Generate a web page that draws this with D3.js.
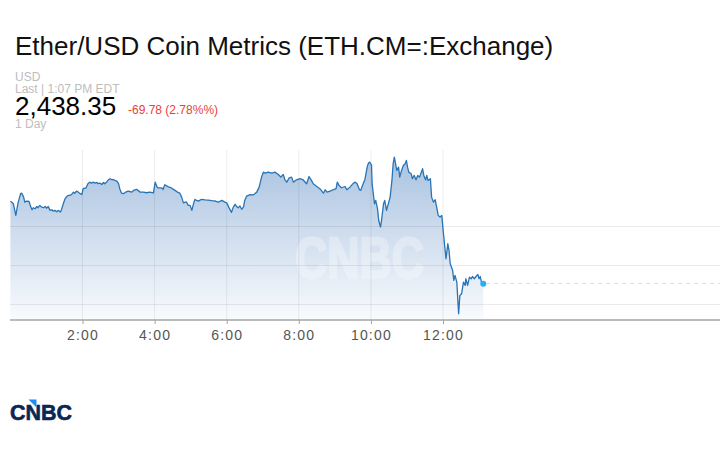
<!DOCTYPE html>
<html>
<head>
<meta charset="utf-8">
<script src="https://cdn.jsdelivr.net/npm/d3@7"></script>
<style>
	body { margin: 0; background: #fff; }
	text { font-family: "Liberation Sans", Arial, Helvetica, sans-serif; }
</style>
</head>
<body>
<script>
// intraday quotes
const times = ['00:00', '00:03', '00:05', '00:09', '00:13', '00:17', '00:19', '00:22', '00:24', '00:27',
	'00:31', '00:34', '00:36', '00:38', '00:41', '00:44', '00:46', '00:49', '00:52', '00:55',
	'00:58', '01:00', '01:03', '01:06', '01:09', '01:11', '01:14', '01:17', '01:20', '01:23',
	'01:25', '01:28', '01:31', '01:34', '01:36', '01:39', '01:42', '01:45', '01:47', '01:50',
	'01:53', '01:56', '01:59', '02:01', '02:06', '02:09', '02:12', '02:15', '02:18', '02:21',
	'02:24', '02:26', '02:29', '02:32', '02:35', '02:37', '02:40', '02:43', '02:46', '02:49',
	'02:51', '02:54', '02:57', '03:00', '03:02', '03:05', '03:08', '03:11', '03:16', '03:22',
	'03:25', '03:30', '03:36', '03:41', '03:47', '03:52', '03:58', '04:01', '04:04', '04:06',
	'04:12', '04:14', '04:17', '04:23', '04:28', '04:34', '04:39', '04:42', '04:45', '04:48',
	'04:51', '04:53', '04:56', '04:59', '05:02', '05:04', '05:07', '05:10', '05:13', '05:18',
	'05:24', '05:29', '05:35', '05:41', '05:46', '05:52', '05:57', '06:00', '06:04', '06:08',
	'06:11', '06:14', '06:17', '06:19', '06:22', '06:25', '06:28', '06:30', '06:33', '06:36',
	'06:39', '06:44', '06:50', '06:54', '06:58', '07:01', '07:04', '07:09', '07:15', '07:20',
	'07:26', '07:30', '07:34', '07:37', '07:40', '07:44', '07:48', '07:51', '07:56', '08:02',
	'08:07', '08:13', '08:17', '08:21', '08:24', '08:30', '08:35', '08:41', '08:44', '08:47',
	'08:52', '08:57', '09:02', '09:04', '09:07', '09:11', '09:17', '09:20', '09:25', '09:31',
	'09:34', '09:37', '09:41', '09:43', '09:46', '09:50', '09:54', '09:56', '09:58', '10:01',
	'10:02', '10:06', '10:08', '10:11', '10:13', '10:16', '10:18', '10:21', '10:23', '10:26',
	'10:29', '10:32', '10:35', '10:37', '10:39', '10:41', '10:43', '10:46', '10:48', '10:51',
	'10:54', '10:57', '10:59', '11:01', '11:03', '11:07', '11:09', '11:12', '11:15', '11:18',
	'11:21', '11:23', '11:26', '11:28', '11:31', '11:33', '11:35', '11:39', '11:41', '11:44',
	'11:47', '11:50', '11:52', '11:55', '11:58', '12:00', '12:03', '12:05', '12:08', '12:10',
	'12:12', '12:16', '12:18', '12:20', '12:23', '12:25', '12:26', '12:28', '12:31', '12:34',
	'12:37', '12:38', '12:41', '12:44', '12:47', '12:49', '12:52', '12:55', '12:58', '13:00',
	'13:02', '13:04', '13:07'];

const prices = [2491.2, 2490.4, 2489.5, 2482.1, 2490.6, 2496.0, 2496.3, 2493.8, 2490.6, 2491.2,
	2491.0, 2487.4, 2485.7, 2487.0, 2486.3, 2487.8, 2487.0, 2488.5, 2487.4, 2487.0,
	2487.8, 2486.7, 2487.8, 2485.3, 2485.7, 2484.8, 2485.3, 2484.4, 2485.3, 2484.2,
	2485.7, 2489.5, 2492.8, 2494.2, 2494.9, 2494.9, 2495.5, 2497.0, 2496.3, 2497.6,
	2497.0, 2496.0, 2495.5, 2499.2, 2499.8, 2502.4, 2503.4, 2502.8, 2503.4, 2502.8,
	2503.2, 2502.4, 2502.8, 2501.9, 2503.2, 2502.4, 2503.4, 2504.9, 2505.6, 2504.9,
	2505.1, 2504.5, 2504.0, 2502.4, 2499.2, 2496.3, 2496.0, 2496.8, 2497.6, 2497.0,
	2498.1, 2498.8, 2497.0, 2497.0, 2496.6, 2497.0, 2496.5, 2503.4, 2500.3, 2499.7,
	2499.7, 2498.7, 2501.7, 2500.4, 2499.7, 2498.1, 2496.8, 2496.3, 2493.8, 2490.1,
	2490.6, 2490.7, 2488.5, 2488.5, 2485.3, 2488.5, 2492.3, 2491.7, 2491.2, 2492.4,
	2492.0, 2491.9, 2491.5, 2491.3, 2490.6, 2491.7, 2490.6, 2490.1, 2486.9, 2484.0,
	2487.4, 2489.2, 2487.6, 2486.9, 2488.1, 2486.0, 2487.5, 2491.7, 2494.4, 2494.9,
	2495.4, 2495.2, 2497.0, 2500.2, 2506.6, 2509.8, 2509.2, 2509.8, 2509.2, 2509.8,
	2508.3, 2506.6, 2508.3, 2504.9, 2503.4, 2506.2, 2506.6, 2503.4, 2504.9, 2505.6,
	2504.9, 2502.4, 2507.0, 2504.5, 2502.4, 2500.6, 2499.2, 2496.3, 2498.5, 2497.0,
	2497.6, 2498.5, 2499.2, 2503.4, 2501.3, 2499.8, 2500.6, 2498.5, 2500.2, 2502.8,
	2503.4, 2502.4, 2498.5, 2498.1, 2501.3, 2505.1, 2513.5, 2515.7, 2516.2, 2514.4,
	2502.4, 2489.5, 2491.7, 2486.3, 2478.8, 2474.6, 2479.9, 2489.5, 2491.7, 2485.3,
	2489.5, 2493.8, 2504.5, 2515.2, 2519.4, 2515.2, 2510.9, 2513.0, 2506.6, 2510.9,
	2514.1, 2515.2, 2517.3, 2513.0, 2509.8, 2508.8, 2505.6, 2507.7, 2504.9, 2507.7,
	2506.6, 2508.8, 2512.0, 2507.7, 2504.9, 2507.7, 2504.5, 2505.6, 2493.8, 2490.6,
	2492.1, 2486.3, 2482.1, 2481.0, 2482.1, 2473.5, 2461.7, 2454.3, 2463.9, 2459.6,
	2451.1, 2446.8, 2440.4, 2443.6, 2439.3, 2425.4, 2419.0, 2430.8, 2431.9, 2439.3,
	2437.2, 2441.5, 2437.2, 2442.5, 2441.5, 2442.9, 2441.5, 2442.9, 2444.2, 2441.5,
	2442.9, 2439.3, 2438.35];

const gridPrices = [2425, 2450, 2475];
const tickTimes = ['02:00', '04:00', '06:00', '08:00', '10:00', '12:00'];
const domainTimes = ['00:00', '19:41'];
const priceDomain = [2416, 2524];

const title = 'Ether/USD Coin Metrics (ETH.CM=:Exchange)';
const currency = 'USD';
const lastLabel = 'Last | 1:07 PM EDT';
const lastPrice = '2,438.35';
const change = '-69.78 (2.78%%)';
const period = '1 Day';

const parseTime = d3.timeParse('%H:%M');
const data = times.map(function (t, i) {
	return { time: parseTime(t), price: prices[i] };
});

const width = 720;
const height = 450;
const plotTop = 150;
const plotBottom = 318.5;
const axisY = 320;

const svg = d3
	.select('body')
	.append('svg')
	.attr('width', width)
	.attr('height', height);

const x = d3.scaleTime()
	.domain(domainTimes.map(parseTime))
	.range([10.4, 720]);

const y = d3.scaleLinear()
	.domain(priceDomain)
	.range([plotBottom, plotTop]);

// header texts
svg.append('text')
	.attr('x', 15)
	.attr('y', 55)
	.attr('font-size', 26)
	.attr('fill', '#111')
	.text(title);

svg.append('text')
	.attr('x', 15)
	.attr('y', 80.5)
	.attr('font-size', 12)
	.attr('fill', '#bdbdbd')
	.text(currency);

svg.append('text')
	.attr('x', 15)
	.attr('y', 92.5)
	.attr('font-size', 12)
	.attr('fill', '#bdbdbd')
	.text(lastLabel);

svg.append('text')
	.attr('x', 15)
	.attr('y', 114.5)
	.attr('font-size', 26)
	.attr('fill', '#000')
	.text(lastPrice);

svg.append('text')
	.attr('x', 128)
	.attr('y', 114)
	.attr('font-size', 12)
	.attr('fill', '#e8413a')
	.text(change);

svg.append('text')
	.attr('x', 15)
	.attr('y', 127.5)
	.attr('font-size', 12)
	.attr('fill', '#bdbdbd')
	.text(period);

// area gradient
const grad = svg.append('defs')
	.append('linearGradient')
	.attr('id', 'areaFill')
	.attr('gradientUnits', 'userSpaceOnUse')
	.attr('x1', 0).attr('x2', 0)
	.attr('y1', plotTop).attr('y2', plotBottom);
grad.append('stop').attr('offset', '0%').attr('stop-color', '#a6c0df');
grad.append('stop').attr('offset', '100%').attr('stop-color', '#f8fafd');

const area = d3.area()
	.x(function (d) { return x(d.time); })
	.y0(plotBottom)
	.y1(function (d) { return y(d.price); });

svg.append('path')
	.datum(data)
	.attr('d', area)
	.attr('fill', 'url(#areaFill)');

// watermark, stroked so the squeezed letters stay heavy
svg.append('g')
	.attr('opacity', 0.3)
	.append('text')
	.attr('x', 295)
	.attr('y', 277.5)
	.attr('font-size', 57)
	.attr('font-weight', 'bold')
	.attr('textLength', 129)
	.attr('lengthAdjust', 'spacingAndGlyphs')
	.attr('fill', '#fff')
	.attr('stroke', '#fff')
	.attr('stroke-width', 2.5)
	.attr('stroke-linejoin', 'round')
	.text('CNBC');

// grid lines
svg.append('g')
	.selectAll('line')
	.data(gridPrices)
	.enter()
	.append('line')
	.attr('x1', 10)
	.attr('x2', width)
	.attr('y1', function (d) { return Math.round(y(d)) + 0.5; })
	.attr('y2', function (d) { return Math.round(y(d)) + 0.5; })
	.attr('stroke', '#000')
	.attr('stroke-opacity', 0.08);

svg.append('g')
	.selectAll('line')
	.data(tickTimes.map(parseTime))
	.enter()
	.append('line')
	.attr('x1', function (d) { return x(d); })
	.attr('x2', function (d) { return x(d); })
	.attr('y1', plotTop)
	.attr('y2', axisY)
	.attr('stroke', '#000')
	.attr('stroke-opacity', 0.07);

// price line
const line = d3.line()
	.x(function (d) { return x(d.time); })
	.y(function (d) { return y(d.price); });

svg.append('path')
	.datum(data)
	.attr('d', line)
	.attr('fill', 'none')
	.attr('stroke', '#2874b5')
	.attr('stroke-width', 1.3)
	.attr('stroke-linejoin', 'round');

// dashed line from the last quote
const last = data[data.length - 1];
svg.append('line')
	.attr('x1', x(last.time) + 3)
	.attr('x2', width)
	.attr('y1', y(last.price))
	.attr('y2', y(last.price))
	.attr('stroke', '#c6eac6')
	.attr('stroke-width', 1)
	.attr('stroke-dasharray', '4,4');

svg.append('circle')
	.attr('cx', x(last.time))
	.attr('cy', y(last.price))
	.attr('r', 3)
	.attr('fill', '#29aef0');

// x axis
const xAxis = d3.axisBottom(x)
	.tickValues(tickTimes.map(parseTime))
	.tickFormat(d3.timeFormat('%-H:%M'))
	.tickSize(4)
	.tickPadding(6);

const axisG = svg.append('g')
	.attr('transform', `translate(0,${axisY})`)
	.call(xAxis);

axisG.select('.domain')
	.attr('d', `M10,0H${width}`)
	.attr('stroke', '#a3a3a3')
	.attr('stroke-width', 1.4);
axisG.selectAll('.tick line')
	.attr('stroke', '#a3a3a3');
axisG.selectAll('.tick text')
	.attr('font-size', 14)
	.attr('letter-spacing', 1.2)
	.attr('fill', '#555')
	.attr('font-family', '"Liberation Sans", Arial, sans-serif');

// CNBC logo at the bottom
const logo = svg.append('g');
logo.append('text')
	.attr('x', 10)
	.attr('y', 419.5)
	.attr('font-size', 22)
	.attr('font-weight', 'bold')
	.attr('textLength', 62)
	.attr('lengthAdjust', 'spacingAndGlyphs')
	.attr('fill', '#0c2653')
	.attr('stroke', '#0c2653')
	.attr('stroke-width', 0.6)
	.text('CNBC');
logo.append('path')
	.attr('d', 'M28.5,399.5H36.5V407.5Z')
	.attr('fill', '#1e8ff0');
</script>
</body>
</html>
